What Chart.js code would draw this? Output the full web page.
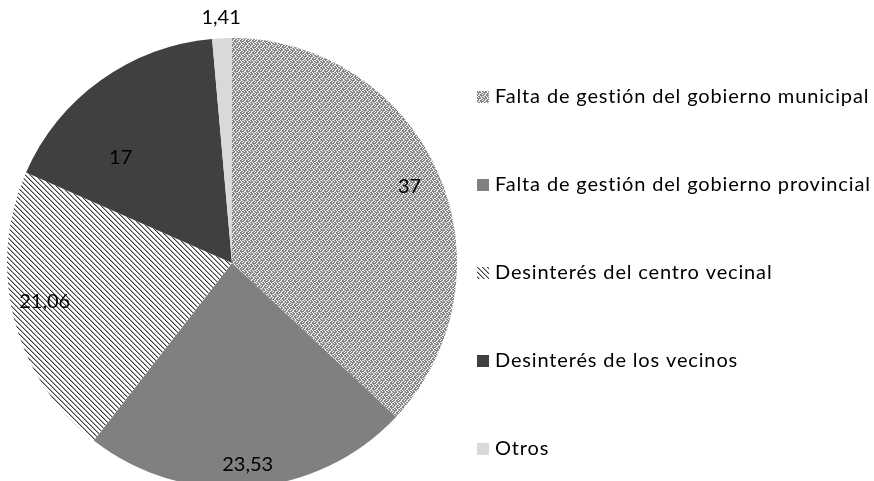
<!DOCTYPE html>
<html>
<head>
<meta charset="utf-8">
<script src="https://cdn.jsdelivr.net/npm/chart.js@4"></script>
<style>
    html, body { margin: 0; padding: 0; background: #fff; overflow: hidden; }
    #wrap { width: 874px; height: 481px; overflow: hidden; }
</style>
</head>
<body>
<div id="wrap"><canvas id="pie" width="874" height="526"></canvas></div>
<script>
const categories = [
    'Falta de gestión del gobierno municipal',
    'Falta de gestión del gobierno provincial',
    'Desinterés del centro vecinal',
    'Desinterés de los vecinos',
    'Otros'
];
const values = [37, 23.53, 21.06, 17, 1.41];

// where each value label sits: share of the radius, and a small turn in degrees
const labelRadius = [0.86, 0.9, 0.85, 0.68, 1.09];
const labelTurn = [0, 0, 2.5, -11, 0];

function makePattern(size, draw) {
    const c = document.createElement('canvas');
    c.width = size;
    c.height = size;
    const g = c.getContext('2d');
    draw(g);
    return document.getElementById('pie').getContext('2d').createPattern(c, 'repeat');
}

// small grey/white checker for the municipal slice
const checker = makePattern(6, g => {
    g.fillStyle = '#858585';
    g.fillRect(0, 0, 6, 6);
    g.fillStyle = '#ffffff';
    [[0, 0], [3, 0], [1, 1], [4, 1], [0, 3], [3, 3], [2, 4], [5, 4], [1, 2], [4, 5]].forEach(p => g.fillRect(p[0], p[1], 1, 1));
    g.fillStyle = '#cfcfcf';
    [[2, 2], [5, 5], [2, 0], [5, 3]].forEach(p => g.fillRect(p[0], p[1], 1, 1));
});

// diagonal hatch, lines running top-left to bottom-right
const hatch = makePattern(5, g => {
    g.fillStyle = '#ffffff';
    g.fillRect(0, 0, 5, 5);
    for (let i = 0; i < 5; i++) {
        g.fillStyle = '#404040';
        g.fillRect(i, i, 1, 1);
        g.fillStyle = '#a8a8a8';
        g.fillRect((i + 1) % 5, i, 1, 1);
    }
});

const colors = [checker, '#808080', hatch, '#404040', '#d9d9d9'];

const fontFamily = 'Lato, "Open Sans", sans-serif';

const valueLabels = {
    id: 'valueLabels',
    afterDatasetsDraw(chart) {
        const ctx = chart.ctx;
        const arcs = chart.getDatasetMeta(0).data;
        ctx.save();
        ctx.font = '20px ' + fontFamily;
        ctx.fillStyle = '#000';
        ctx.textAlign = 'center';
        ctx.textBaseline = 'middle';
        arcs.forEach((arc, i) => {
            const mid = (arc.startAngle + arc.endAngle) / 2 + labelTurn[i] * Math.PI / 180;
            const r = arc.outerRadius * labelRadius[i];
            const x = arc.x + Math.cos(mid) * r;
            const y = arc.y + Math.sin(mid) * r;
            ctx.fillText(values[i].toString().replace('.', ','), x, y);
        });
        ctx.restore();
    }
};

const sideLegend = {
    id: 'sideLegend',
    afterDraw(chart) {
        const ctx = chart.ctx;
        ctx.save();
        ctx.font = '20px ' + fontFamily;
        ctx.letterSpacing = '0.85px';
        ctx.textBaseline = 'middle';
        chart.data.labels.forEach((label, i) => {
            const y = 97 + i * 88;
            ctx.fillStyle = chart.data.datasets[0].backgroundColor[i];
            ctx.fillRect(477, y - 6, 12, 12);
            ctx.fillStyle = '#000';
            ctx.fillText(label, 495, y);
        });
        ctx.restore();
    }
};

new Chart(document.getElementById('pie'), {
    type: 'pie',
    data: {
        labels: categories,
        datasets: [{
            data: values,
            backgroundColor: colors,
            borderWidth: 0
        }]
    },
    options: {
        responsive: false,
        animation: false,
        layout: { padding: { left: 7, top: 38, bottom: 38, right: 417 } },
        plugins: {
            legend: { display: false },
            tooltip: { enabled: false }
        }
    },
    plugins: [valueLabels, sideLegend]
});
</script>
</body>
</html>
